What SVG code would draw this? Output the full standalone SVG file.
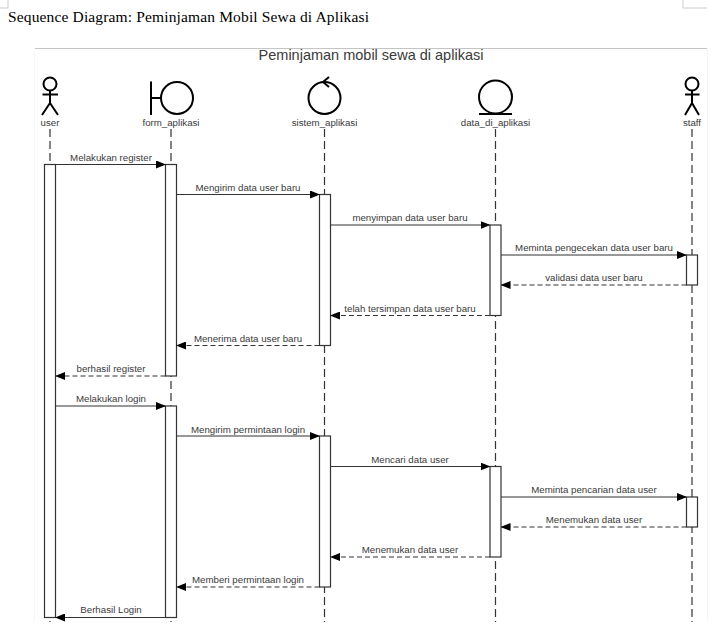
<svg xmlns="http://www.w3.org/2000/svg" width="725" height="633" viewBox="0 0 725 633">
<style>
text{font-family:"Liberation Sans",Arial,sans-serif;fill:#3a3a3a;font-size:9.700px}
.c{text-anchor:middle}
.fig{fill:none;stroke:#000;stroke-width:2}
.life{stroke:#333;stroke-width:1.200;stroke-dasharray:8 4;fill:none}
.act{fill:#fff;stroke:#333;stroke-width:1.200}
.sync{stroke:#333;stroke-width:1.200;fill:none;marker-end:url(#ah)}
.ret{stroke:#333;stroke-width:1.200;stroke-dasharray:5 3;fill:none;marker-end:url(#ah)}
</style>
<defs>
<marker id="ah" viewBox="0 0 10 8" refX="9" refY="4" markerWidth="10" markerHeight="8" markerUnits="userSpaceOnUse" orient="auto"><path d="M0 0L10 4L0 8Z" fill="#000"/></marker>
</defs>
<rect width="725" height="633" fill="#fff"/>
<g id="page">
<path d="M8 0V8H0M683 0V8H707" fill="none" stroke="#ccc"/>
<text x="8" y="22" style="font-family:'Liberation Serif',serif;font-size:15.500px;fill:#000" textLength="361" lengthAdjust="spacing">Sequence Diagram: Peminjaman Mobil Sewa di Aplikasi</text>
<path d="M34 48.500H708" fill="none" stroke="#c4c4c4"/>
<path d="M34.500 48V622M707.500 48V622" fill="none" stroke="#f6f6f6"/>
<text class="c" x="371" y="60" style="font-size:14.500px">Peminjaman mobil sewa di aplikasi</text>
</g>
<g id="lifelines">
<path class="life" d="M50 129V622M171 129V622M324.500 129V622M495.500 129V622M692 129V622"/>
</g>
<g id="node-user">
<circle class="fig" cx="50" cy="84" r="6.500"/><path class="fig" d="M50 90.500V103M42.500 94.500H58M42 115L50 103L58 115"/>
<text class="c" x="50" y="126">user</text>
</g>
<g id="node-form_aplikasi">
<circle class="fig" cx="177" cy="98" r="16"/><path class="fig" d="M151 81.500V115M151 98H161"/>
<text class="c" x="171" y="126">form_aplikasi</text>
</g>
<g id="node-sistem_aplikasi">
<circle class="fig" cx="324.500" cy="98" r="16"/><path class="fig" d="M329 77L323 82L329 87"/>
<text class="c" x="324.500" y="126">sistem_aplikasi</text>
</g>
<g id="node-data_di_aplikasi">
<circle class="fig" cx="495.500" cy="97" r="16.500"/><path class="fig" d="M479 114H512"/>
<text class="c" x="495.500" y="126">data_di_aplikasi</text>
</g>
<g id="node-staff">
<circle class="fig" cx="692" cy="84" r="6.500"/><path class="fig" d="M692 90.500V103M685 94.500H699.500M685 115L692 103L699 115"/>
<text class="c" x="692" y="126">staff</text>
</g>
<g id="activations">
<rect class="act" x="44.500" y="164.500" width="11" height="453"/>
<rect class="act" x="165.500" y="164.500" width="11" height="211.500"/>
<rect class="act" x="165.500" y="406" width="11" height="211.500"/>
<rect class="act" x="319.500" y="194.500" width="11" height="151"/>
<rect class="act" x="319.500" y="436" width="11" height="151"/>
<rect class="act" x="490" y="225" width="11" height="90.500"/>
<rect class="act" x="490" y="466.500" width="11" height="90.500"/>
<rect class="act" x="686.500" y="255" width="11" height="30"/>
<rect class="act" x="686.500" y="497" width="11" height="30"/>
</g>
<g id="connectors">
<path class="sync" d="M55.500 164.500H165"/>
<path class="sync" d="M176.500 194.500H319"/>
<path class="sync" d="M330.500 225H489.500"/>
<path class="sync" d="M501 255H686"/>
<path class="ret" d="M686.500 285H501.500"/>
<path class="ret" d="M490 315.500H331"/>
<path class="ret" d="M319.500 345.500H177"/>
<path class="ret" d="M165.500 376H56"/>
<path class="sync" d="M55.500 406H165"/>
<path class="sync" d="M176.500 436H319"/>
<path class="sync" d="M330.500 466.500H489.500"/>
<path class="sync" d="M501 497H686"/>
<path class="ret" d="M686.500 527H501.500"/>
<path class="ret" d="M490 557H331"/>
<path class="ret" d="M319.500 587H177"/>
<path class="sync" d="M165.500 617.500H56"/>
</g>
<g id="labels">
<text class="c" x="111" y="161">Melakukan register</text>
<text class="c" x="248" y="191">Mengirim data user baru</text>
<text class="c" x="410" y="221">menyimpan data user baru</text>
<text class="c" x="594" y="251">Meminta pengecekan data user baru</text>
<text class="c" x="594" y="281">validasi data user baru</text>
<text class="c" x="410" y="312">telah tersimpan data user baru</text>
<text class="c" x="248" y="342">Menerima data user baru</text>
<text class="c" x="111" y="372">berhasil register</text>
<text class="c" x="111" y="402">Melakukan login</text>
<text class="c" x="248" y="433">Mengirim permintaan login</text>
<text class="c" x="410" y="463">Mencari data user</text>
<text class="c" x="594" y="493">Meminta pencarian data user</text>
<text class="c" x="594" y="523">Menemukan data user</text>
<text class="c" x="410" y="553">Menemukan data user</text>
<text class="c" x="248" y="583">Memberi permintaan login</text>
<text class="c" x="111" y="613">Berhasil Login</text>
</g>
</svg>
